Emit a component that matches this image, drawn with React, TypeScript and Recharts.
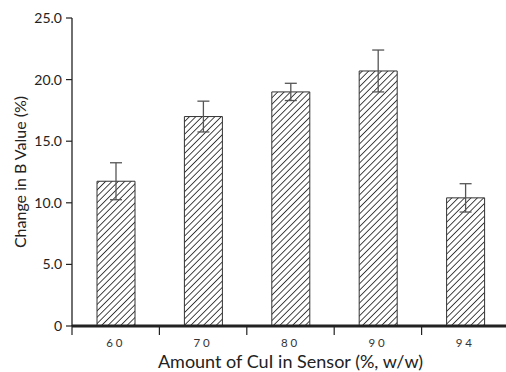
import React from 'react';
import { BarChart, Bar, XAxis, YAxis, ErrorBar } from 'recharts';

const categories = ['60', '70', '80', '90', '94'];
const changeValues = [11.75, 17.0, 19.0, 20.7, 10.4];
const errorValues = [1.5, 1.25, 0.7, 1.7, 1.15];
const yTicks = [0, 5, 10, 15, 20, 25];

const data = categories.map((c, i) => ({
    name: c,
    change: changeValues[i],
    err: errorValues[i],
}));

const font = 'Lato, "Open Sans", sans-serif';
const CHART_W = 510;
const PLOT_LEFT = 72;
const PLOT_RIGHT = 1;

// category tick: label at band centre, tick marks at band edges
const EdgeTick = (props: any) => {
    const { x, y, payload, index, visibleTicksCount } = props;
    const half = payload?.offset || (CHART_W - PLOT_LEFT - PLOT_RIGHT) / categories.length / 2;
    const isLast = index === (visibleTicksCount ?? categories.length) - 1;
    return (
        <g>
            <line x1={x - half} x2={x - half} y1={y - 1} y2={y + 9} stroke="#222" strokeWidth={1.2} />
            {isLast && <line x1={x + half} x2={x + half} y1={y - 1} y2={y + 9} stroke="#222" strokeWidth={1.2} />}
            <text x={x} y={y + 20.5} textAnchor="middle" fontSize={11.5} fill="#333" fontFamily={font} letterSpacing={2.8}>
                {payload.value}
            </text>
        </g>
    );
};

export default function App() {
    return (
        <div style={{ position: 'absolute', left: 0, top: 0, width: 506, height: 372, overflow: 'hidden', background: '#fff' }}>
            <BarChart width={CHART_W} height={372} data={data} margin={{ top: 18, right: PLOT_RIGHT, left: 0, bottom: 0 }}>
                <defs>
                    <pattern id="hatch" patternUnits="userSpaceOnUse" width="4.5" height="4.5" patternTransform="rotate(45)">
                        <line x1="0" y1="0" x2="0" y2="4.5" stroke="#1a1a1a" strokeWidth="1.6" />
                    </pattern>
                </defs>
                <XAxis
                    dataKey="name"
                    height={46}
                    tickSize={0}
                    tickMargin={0}
                    tickLine={false}
                    axisLine={{ stroke: '#222', strokeWidth: 3 }}
                    tick={<EdgeTick />}
                    interval={0}
                />
                <YAxis
                    width={PLOT_LEFT}
                    domain={[0, 25]}
                    ticks={yTicks}
                    tickFormatter={(v: number) => (v === 0 ? '0' : v.toFixed(1))}
                    tickSize={6}
                    tickMargin={4}
                    axisLine={{ stroke: '#222', strokeWidth: 1.3 }}
                    tickLine={{ stroke: '#222', strokeWidth: 1.2 }}
                    tick={{ fontSize: 14, fill: '#222', fontFamily: font }}
                    label={{ value: 'Change in B Value (%)', angle: -90, position: 'insideLeft', offset: 20, style: { textAnchor: 'middle', fontSize: 16, fill: '#222', fontFamily: font } }}
                />
                <Bar dataKey="change" barSize={38} fill="url(#hatch)" stroke="#333" strokeWidth={1} isAnimationActive={false}>
                    <ErrorBar dataKey="err" width={6} stroke="#555" strokeWidth={1.3} direction="y" />
                </Bar>
                <text x={PLOT_LEFT + (CHART_W - PLOT_LEFT - PLOT_RIGHT) / 2} y={368} textAnchor="middle" fontSize={18} fill="#222" fontFamily={font}>
                    Amount of CuI in Sensor (%, w/w)
                </text>
            </BarChart>
        </div>
    );
}
